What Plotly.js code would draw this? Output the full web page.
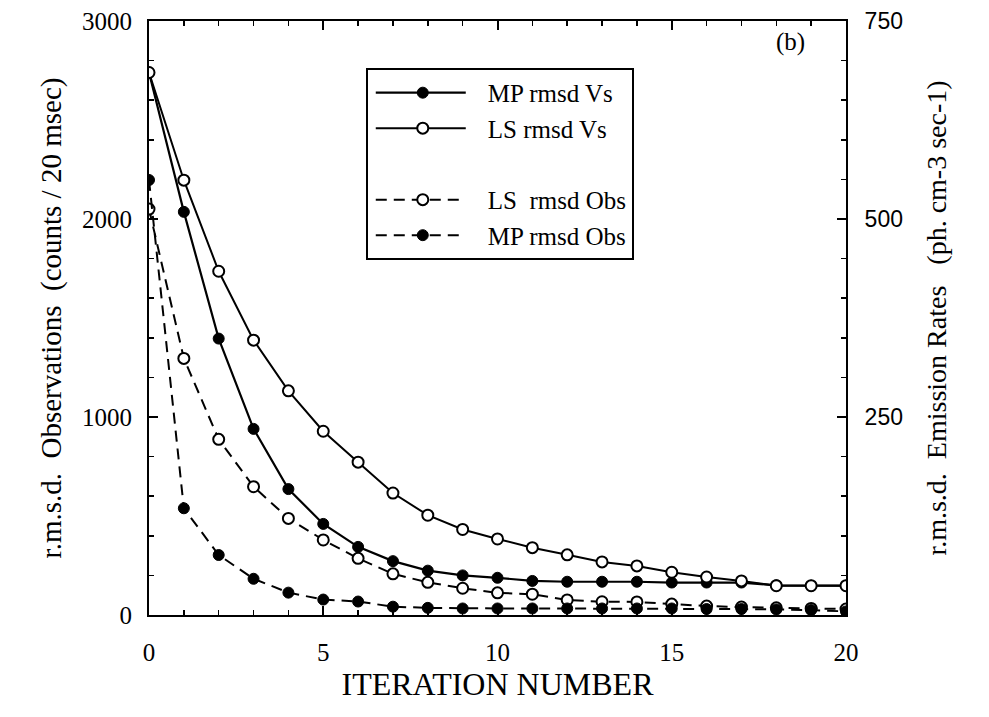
<!DOCTYPE html>
<html>
<head>
<meta charset="utf-8">
<script src="https://cdn.plot.ly/plotly-3.0.1.min.js"></script>
<style>html,body{margin:0;padding:0;background:#fff;}#chart{width:989px;height:717px;}</style>
</head>
<body>
<div id="chart"></div>
<script>
// Iteration numbers
const iterations = [0,1,2,3,4,5,6,7,8,9,10,11,12,13,14,15,16,17,18,19,20];
// r.m.s.d. of emission rates (ph. cm-3 sec-1) -> right axis
const mpRmsdVs = [685,509,349,235,159,115,86,68,56,50,47,43,42,42,42,41,41,41,37.5,37,37];
const lsRmsdVs = [685,549,434,347,283,232,193,154,126,108,96,85,76,67,62,54,48,43,37,37,37];
// r.m.s.d. of observations (counts / 20 msec) -> left axis
const lsRmsdObs = [2050,1296,887,648,488,379,286,208,165,135,112,105,76,67,66,55,45,40,36,33,30];
const mpRmsdObs = [2197,539,303,183,113,78,68,42,36,33,33,33,33,33,33,33,30,30,28,25,18];
// Labels
const seriesNames = ['MP rmsd Vs','LS rmsd Vs','LS  rmsd Obs','MP rmsd Obs'];
const xTitle = 'ITERATION NUMBER';
const yLeftTitle = 'r.m.s.d.  Observations  (counts / 20 msec)';
const yRightTitle = 'r.m.s.d.  Emission Rates   (ph. cm-3 sec-1)';
const panelLabel = '(b)';

const serif = 'Liberation Serif, Times New Roman, serif';
const sans = 'Liberation Sans, Arial, sans-serif';

const filledMarker = {symbol:'circle', size:11, color:'#000', line:{color:'#000', width:1}};
const openMarker = {symbol:'circle', size:11, color:'#fff', line:{color:'#000', width:2}};

const traces = [
  {x:iterations, y:mpRmsdVs, yaxis:'y2', name:seriesNames[0], mode:'lines+markers',
   line:{color:'#000', width:2.2}, marker:filledMarker, legendgroup:'vs'},
  {x:iterations, y:lsRmsdVs, yaxis:'y2', name:seriesNames[1], mode:'lines+markers',
   line:{color:'#000', width:2}, marker:openMarker, legendgroup:'vs'},
  {x:iterations, y:lsRmsdObs, yaxis:'y', name:seriesNames[2], mode:'lines+markers',
   line:{color:'#000', width:2, dash:'11px,7px'}, marker:openMarker, legendgroup:'obs'},
  {x:iterations, y:mpRmsdObs, yaxis:'y', name:seriesNames[3], mode:'lines+markers',
   line:{color:'#000', width:2, dash:'11px,7px'}, marker:filledMarker, legendgroup:'obs'}
];

const layout = {
  width:989, height:717,
  paper_bgcolor:'#fff', plot_bgcolor:'#fff',
  margin:{l:149, r:143, t:21, b:102},
  showlegend:true,
  legend:{x:0.311, y:0.921, xanchor:'left', yanchor:'top',
    bordercolor:'#000', borderwidth:2, bgcolor:'#fff',
    font:{family:serif, size:25, color:'#000'},
    traceorder:'grouped', tracegroupgap:36, itemwidth:110},
  xaxis:{range:[0,20], dtick:5, tick0:0, ticks:'inside', ticklen:9, tickwidth:2, tickcolor:'#000',
    minor:{dtick:1, ticks:'inside', ticklen:5, tickwidth:1.5, tickcolor:'#000'},
    showline:true, linecolor:'#000', linewidth:2, mirror:'ticks', showgrid:false, zeroline:false,
    ticklabelstandoff:14,
    tickfont:{family:serif, size:25, color:'#000'},
    title:{text:xTitle, font:{family:serif, size:32, color:'#000'}, standoff:0}},
  yaxis:{range:[0,3000], dtick:1000, ticks:'inside', ticklen:9, tickwidth:2, tickcolor:'#000',
    minor:{dtick:200, ticks:'inside', ticklen:5, tickwidth:1.5, tickcolor:'#000'},
    showline:true, linecolor:'#000', linewidth:2, showgrid:false, zeroline:false,
    ticklabelstandoff:10,
    tickfont:{family:serif, size:25, color:'#000'},
    title:{text:yLeftTitle, font:{family:serif, size:29, color:'#000'}, standoff:12}},
  yaxis2:{range:[0,750], dtick:250, overlaying:'y', side:'right', ticks:'inside', ticklen:9, tickwidth:2, tickcolor:'#000',
    minor:{dtick:50, ticks:'inside', ticklen:5, tickwidth:1.5, tickcolor:'#000'},
    showline:true, linecolor:'#000', linewidth:2, showgrid:false, zeroline:false,
    ticklabelstandoff:12,
    tickvals:[250,500,750], ticktext:['250','500','750'],
    tickfont:{family:sans, size:23, color:'#000'},
    title:{text:yRightTitle, font:{family:serif, size:28, color:'#000'}, standoff:24}},
  annotations:[{text:panelLabel, xref:'paper', yref:'paper', x:0.92, y:0.965, xanchor:'center', yanchor:'middle',
    showarrow:false, font:{family:serif, size:25, color:'#000'}}]
};

Plotly.newPlot('chart', traces, layout, {displayModeBar:false, staticPlot:true}).then(function(gd){
  // widen the legend line samples to match the original figure's long keys
  gd.querySelectorAll('.legend .traces').forEach(function(t){
    t.querySelectorAll('.legendlines path').forEach(function(p){ p.setAttribute('d','M8,0h90'); });
    t.querySelectorAll('.legendpoints path.scatterpts').forEach(function(p){ p.setAttribute('transform','translate(55,0)'); });
  });
});
</script>
</body>
</html>
